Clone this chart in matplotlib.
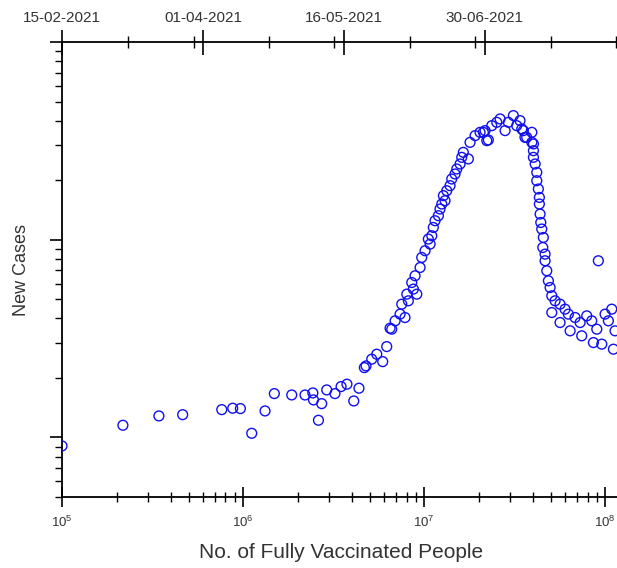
import datetime as dt
import matplotlib
matplotlib.use("Agg")
import matplotlib.pyplot as plt
import matplotlib.dates as mdates
from matplotlib.ticker import LogLocator, NullFormatter, FixedLocator

plt.rcParams['font.family'] = ['Liberation Sans', 'DejaVu Sans']

# cumulative fully vaccinated people (x) and daily new cases (y)
vaccinated = [
    1.00e5, 2.17e5, 3.43e5, 4.64e5, 7.63e5, 8.77e5, 9.67e5, 1.117e6, 1.323e6, 1.489e6,
    1.858e6, 2.20e6, 2.43e6, 2.45e6, 2.61e6, 2.72e6, 2.90e6, 3.22e6, 3.48e6, 3.75e6,
    4.09e6, 4.37e6, 4.68e6, 4.78e6, 5.14e6, 5.48e6, 5.91e6, 6.22e6, 6.49e6, 6.63e6,
    6.92e6, 7.37e6, 7.85e6, 7.53e6, 8.19e6, 8.03e6, 8.73e6, 9.12e6, 8.55e6, 8.92e6,
    9.51e6, 9.71e6, 1.013e7, 1.08e7, 1.056e7, 1.103e7, 1.125e7, 1.15e7, 1.20e7, 1.225e7,
    1.253e7, 1.306e7, 1.279e7, 1.335e7, 1.392e7, 1.422e7, 1.483e7, 1.516e7, 1.581e7, 1.615e7,
    1.648e7, 1.757e7, 1.795e7, 1.914e7, 2.039e7, 2.221e7, 2.173e7, 2.366e7, 2.522e7, 2.63e7,
    2.803e7, 2.922e7, 3.114e7, 3.25e7, 3.39e7, 3.537e7, 3.69e7, 3.94e7, 4.02e7, 2.127e7,
    2.265e7, 3.467e7, 3.61e7, 3.94e7, 4.02e7, 4.02e7, 4.11e7, 4.195e7, 4.195e7, 4.28e7,
    4.335e7, 4.335e7, 4.375e7, 4.414e7, 4.468e7, 4.56e7, 4.528e7, 4.662e7, 4.662e7, 4.764e7,
    4.862e7, 4.97e7, 5.077e7, 5.296e7, 5.077e7, 5.64e7, 5.64e7, 6.01e7, 6.27e7, 6.41e7,
    6.83e7, 7.28e7, 7.43e7, 7.92e7, 8.44e7, 8.62e7, 9.0e7, 9.18e7, 9.59e7, 1.0e8,
    1.043e8, 1.089e8, 1.112e8, 1.135e8,
]
new_cases = [
    9060, 11530, 12850, 13040, 13830, 14060, 14000, 10500, 13620, 16670,
    16410, 16400, 16800, 15490, 12220, 14830, 17400, 16670, 18090, 18600,
    15300, 17750, 22560, 23010, 24890, 26380, 24190, 28820, 35700, 35300,
    38900, 42060, 40430, 47230, 49110, 53090, 56290, 53090, 60770, 65740,
    72400, 81360, 88000, 95100, 100800, 104800, 115400, 124800, 132300, 143000,
    151600, 157600, 167100, 177000, 187700, 202900, 215100, 228000, 241700, 261100,
    276700, 256300, 310900, 336200, 349400, 317100, 356400, 377600, 392600, 408400,
    356400, 392600, 424600, 377600, 400400, 356400, 329600, 349400, 305200, 349400,
    319800, 363600, 329600, 310900, 282200, 261100, 241700, 219200, 198900, 180600,
    163700, 151600, 134900, 122300, 113300, 102700, 91400, 84600, 78300, 69700,
    62000, 57340, 52050, 49110, 42850, 47230, 38140, 44570, 42060, 34620,
    40430, 38140, 32660, 41220, 38900, 30200, 35300, 78300, 29650, 42060,
    38900, 44570, 27960, 34620,
]

date_start = dt.date(2021, 2, 15)
date_end = date_start + dt.timedelta(days=178.8)
date_majors = [dt.date(2021, 2, 15), dt.date(2021, 4, 1), dt.date(2021, 5, 16), dt.date(2021, 6, 30)]

fig = plt.figure(figsize=(6.17, 5.68), dpi=100)
ax = fig.add_axes([0.1005, 0.125, 0.9034, 0.801])

ax.scatter(vaccinated, new_cases, s=50, facecolors='none', edgecolors='#1010ee', linewidths=1.0, zorder=3)

ax.set_xscale('log')
ax.set_yscale('log')
ax.set_xlim(1e5, 1.2e8)
ax.set_ylim(5000, 1e6)

ax.spines['right'].set_visible(False)
ax.spines['top'].set_visible(False)
for s in ['left', 'bottom']:
    ax.spines[s].set_linewidth(1.3)

ax.xaxis.set_major_locator(LogLocator(base=10))
ax.xaxis.set_minor_locator(LogLocator(base=10, subs=range(2, 10)))
ax.xaxis.set_minor_formatter(NullFormatter())
ax.tick_params(axis='x', which='major', direction='inout', length=15, width=1.2, labelsize=9.5, labelcolor='#333333', pad=5)
ax.tick_params(axis='x', which='minor', direction='inout', length=7, width=1.0)
ax.tick_params(axis='y', which='major', direction='out', length=9, width=1.2, labelleft=False)
ax.tick_params(axis='y', which='minor', direction='out', length=5, width=1.0, labelleft=False)

ax.set_xlabel('No. of Fully Vaccinated People', fontsize=15, color='#333333', labelpad=10)
ax.set_ylabel('New Cases', fontsize=13, color='#333333', labelpad=14)

# date axis on top
ax2 = ax.twiny()
ax2.set_xlim(mdates.date2num(date_start), mdates.date2num(date_end))
for s in ['left', 'right', 'bottom']:
    ax2.spines[s].set_visible(False)
ax2.spines['top'].set_linewidth(1.3)
major_nums = [mdates.date2num(d) for d in date_majors]
minor_nums = []
for m in major_nums:
    minor_nums += [m + 21, m + 42]
ax2.xaxis.set_major_locator(FixedLocator(major_nums))
ax2.xaxis.set_minor_locator(FixedLocator(minor_nums))
ax2.xaxis.set_major_formatter(mdates.DateFormatter('%d-%m-%Y'))
ax2.tick_params(axis='x', which='major', direction='inout', length=18, width=1.2, labelsize=11, labelcolor='#333333', pad=3)
ax2.tick_params(axis='x', which='minor', direction='inout', length=8, width=1.0)

fig.savefig('out.png', dpi=100)
